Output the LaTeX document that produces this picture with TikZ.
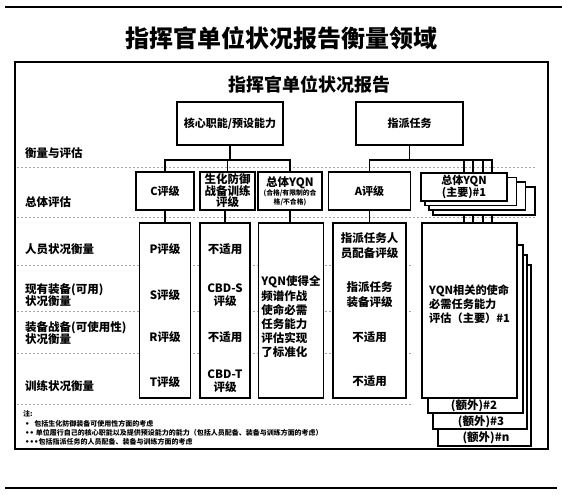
\documentclass[tikz,border=0pt]{standalone}
\usepackage{fontspec}
\setmainfont{Noto Sans CJK SC}
\newfontfamily\dotfont{DejaVu Sans}
\usepackage{tikz}
\usetikzlibrary{positioning,backgrounds,calc}
\newcommand{\bulletmark}[1]{{\dotfont #1}}

\begin{document}
\begin{tikzpicture}[
  x=1pt, y=-1pt,
  every node/.style={font=\bfseries\fontsize{11}{13}\selectfont, inner sep=0pt},
  box/.style={draw, line width=1.5pt, fill=white, align=center},
  link/.style={line width=1.5pt},
  sep/.style={draw=black!35, line width=0.9pt, dash pattern=on 2.2pt off 1.8pt},
  lbl/.style={anchor=west, align=left, font=\bfseries\fontsize{11.5}{12.5}\selectfont},
  cell/.style={align=center, font=\bfseries\fontsize{11.5}{13.5}\selectfont},
  note/.style={anchor=west, font=\bfseries\fontsize{7}{8}\selectfont},
  rule/.style={line width=2.6pt}
]
\useasboundingbox (0,0) rectangle (562,495);

% page rules, title and frame
\draw[rule] (5,7) -- (562,7);
\draw[rule] (5,488) -- (557,488);
\node[font=\bfseries\fontsize{24}{28}\selectfont] (ttl) at (281,38) {指挥官单位状况报告衡量领域};
\draw[line width=1.6pt] (15,62) rectangle (548,449);
\node[font=\bfseries\fontsize{18}{20}\selectfont] (rep) at (309,85) {指挥官单位状况报告};

% top level
\node[box, minimum width=106, minimum height=43] (core) at (230,123.5) {核心职能/预设能力};
\node[box, minimum width=107, minimum height=43] (asg) at (409.5,123.5) {指派任务};

% overall assessment
\node[box, minimum width=58, minimum height=38] (crate) at (165,191) {C评级};
\node[box, minimum width=55, minimum height=38, font=\bfseries\fontsize{11.5}{11.5}\selectfont] (bio) at (227.5,191) {生化防御\\战备训练\\评级};
\node[box, minimum width=64, minimum height=38, font=\bfseries\fontsize{6.8}{9.2}\selectfont] (yqn) at (290,191) {{\fontsize{11.5}{12}\selectfont 总体YQN}\\(合格/有限制的合\\格/不合格)};
\node[box, minimum width=82, minimum height=38] (arate) at (369.5,191) {A评级};
\node[box, minimum width=102, minimum height=28] (stk3) at (484,200.8) {};
\node[box, minimum width=96.6, minimum height=28] (stk2) at (477.3,196.2) {};
\node[box, minimum width=91.3, minimum height=28] (stk1) at (470.7,191.6) {};
\node[box, minimum width=86, minimum height=28, font=\bfseries\fontsize{11}{12}\selectfont] (stk0) at (464,187) {总体YQN\\(主要)\#1};

% measures
\node[box, minimum width=51, minimum height=175] (pcol) at (165,310.5) {};
\node[box, minimum width=50, minimum height=175] (bcol) at (225,310.5) {};
\node[box, minimum width=65, minimum height=175] (ycol) at (291,310.5) {};
\node[box, minimum width=73, minimum height=175] (acol) at (369.5,310.5) {};
\node[box, minimum width=93, minimum height=181] (big3) at (484.5,355.5) {};
\node[box, minimum width=94, minimum height=174] (big2) at (480,342) {};
\node[box, minimum width=95, minimum height=168] (big1) at (475.5,329) {};
\node[box, minimum width=95, minimum height=175] (big0) at (469.5,310.5) {};

% row labels
\node[lbl] (l1) at (25,153) {衡量与评估};
\node[lbl] (l2) at (25,202) {总体评估};
\node[lbl] (l3) at (25,249) {人员状况衡量};
\node[lbl] (l4) at (25,295) {现有装备(可用)\\状况衡量};
\node[lbl] (l5) at (25,333) {装备战备(可使用性)\\状况衡量};
\node[lbl] (l6) at (25,386) {训练状况衡量};

% cell texts
\node[cell] (p1) at (165,249) {P评级};
\node[cell] (p2) at (165,295) {S评级};
\node[cell] (p3) at (165,337) {R评级};
\node[cell] (p4) at (165,382) {T评级};
\node[cell] (b1) at (225,249) {不适用};
\node[cell] (b2) at (225,295) {CBD-S\\评级};
\node[cell] (b3) at (225,337) {不适用};
\node[cell] (b4) at (225,381) {CBD-T\\评级};
\node[cell, align=left, font=\bfseries\fontsize{11.5}{14.2}\selectfont] (y1) at (291,317) {YQN使得全\\频谱作战\\使命必需\\任务能力\\评估实现\\了标准化};
\node[cell, font=\bfseries\fontsize{11.5}{15}\selectfont] (a1) at (369.5,246) {指派任务人\\员配备评级};
\node[cell, font=\bfseries\fontsize{11.5}{15}\selectfont] (a2) at (369.5,295) {指派任务\\装备评级};
\node[cell] (a3) at (369.5,337) {不适用};
\node[cell] (a4) at (369.5,381) {不适用};
\node[cell, anchor=west, align=left, font=\bfseries\fontsize{11.2}{14}\selectfont] (g1) at (429,304) {YQN相关的使命\\必需任务能力\\评估（主要）\#1};
\node[cell] (e2) at (474,406) {(额外)\#2};
\node[cell] (e3) at (481,422) {(额外)\#3};
\node[cell] (e4) at (486,438) {(额外)\#n};

% notes
\node[note] (n0) at (23,414) {注:};
\node[note] (n1) at (25,424) {\bulletmark{•}\ \ \ 包括生化防御装备可使用性方面的考虑};
\node[note] (n2) at (25,433) {\bulletmark{••}\ 单位履行自己的核心职能以及提供预设能力的能力（包括人员配备、装备与训练方面的考虑）};
\node[note] (n3) at (25,442) {\bulletmark{•••}包括指派任务的人员配备、装备与训练方面的考虑};

\begin{scope}[on background layer]
% separators
\draw[sep] (17,167) -- (537,167);
\draw[sep] (17,217) -- (537,217);
\draw[sep] (17,265) -- (413,265);
\draw[sep] (17,311) -- (413,311);
\draw[sep] (17,353) -- (413,353);
\draw[sep] (17,404) -- (413,404);
% tree links
\coordinate (cbus) at ($(core.south)+(0,14)$);
\coordinate (abus) at ($(asg.south)+(0,14)$);
\draw[link] (core.south) -- (cbus) -| (crate.north);
\draw[link] (cbus) -| (bio.north);
\draw[link] (cbus) -| (yqn.north);
\draw[link] (asg.south) -- (abus) -| (arate.north);
\draw[link] (abus) -| (stk0.north);
\draw[link] (abus) -| ([xshift=2.3]stk1.north);
\draw[link] (abus) -| ([xshift=5.7]stk2.north);
\draw[link] (abus) -| ([xshift=8]stk3.north);
\draw[link] (crate.south) -- (pcol.north);
\draw[link] (bcol.north |- bio.south) -- (bcol.north);
\draw[link] (yqn.south) -- (yqn.south |- ycol.north);
\draw[link] (arate.south) -- (acol.north);
\coordinate (s1) at ([xshift=2.3]stk1.south);
\coordinate (s2) at ([xshift=5.7]stk2.south);
\coordinate (s3) at ([xshift=8]stk3.south);
\draw[link] (stk0.south) -- (stk0.south |- big0.north);
\draw[link] (s1) -- (s1 |- big1.north);
\draw[link] (s2) -- (s2 |- big2.north);
\draw[link] (s3) -- (s3 |- big3.north);
\end{scope}
\end{tikzpicture}
\end{document}
